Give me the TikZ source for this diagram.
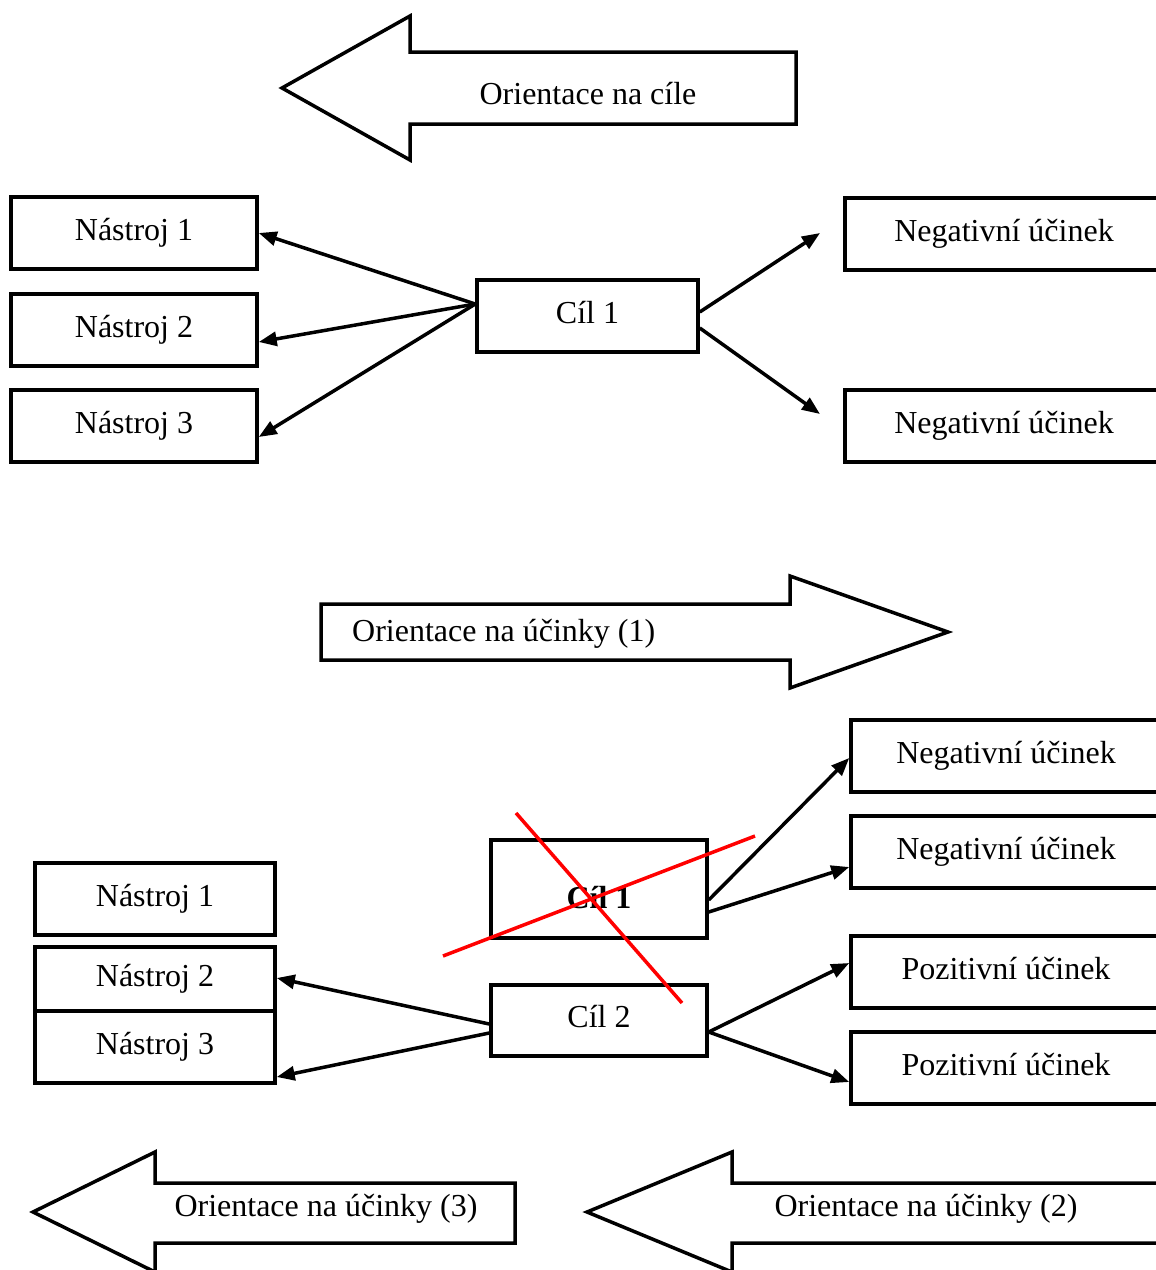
\documentclass[tikz,border=0pt]{standalone}
\usepackage{fontspec}
\setmainfont{Liberation Serif}
\usetikzlibrary{arrows.meta}

\tikzset{
  box/.style={draw, line width=3.5pt, inner sep=0pt, text height=22pt, text depth=8pt,
              minimum height=72pt, fill=white},
  conn/.style={line width=3.5pt, -{Triangle[length=18pt,width=14pt]}},
  blockarrow/.style={draw, line width=3.5pt, fill=white},
  lbl/.style={inner sep=0pt, anchor=base},
  strike/.style={draw=red, line width=3.5pt}
}

\begin{document}
\begin{tikzpicture}[x=1pt, y=-1pt, font=\fontsize{32}{38}\selectfont]
\useasboundingbox (0,0) rectangle (1156,1270);
\clip (0,0) rectangle (1156,1270);

% ---------- upper part: orientation on goals ----------
\draw[blockarrow] (796,52) -- (410,52) -- (410,16) -- (282,88) -- (410,160) -- (410,124) -- (796,124) -- cycle;
\node[lbl] (tgoal) at (588,104) {Orientace na cíle};

\node[box, minimum width=246pt] (n1) at (134,233) {Nástroj 1};
\node[box, minimum width=246pt] (n2) at (134,330) {Nástroj 2};
\node[box, minimum width=246pt] (n3) at (134,426) {Nástroj 3};
\node[box, minimum width=221pt] (c1) at (587.5,316) {Cíl 1};
\node[box, minimum width=318pt] (e1) at (1004,234) {Negativní účinek};
\node[box, minimum width=318pt] (e2) at (1004,426) {Negativní účinek};

\coordinate (t1) at (820,233);
\coordinate (t2) at (820,414);

\draw[conn] ([yshift=12pt]c1.west) -- (n1.east);
\draw[conn] ([yshift=12pt]c1.west) -- ([yshift=-12pt]n2.east);
\draw[conn] ([yshift=12pt]c1.west) -- ([yshift=-11pt]n3.east);
\draw[conn] ([yshift=4pt]c1.east) -- (t1);
\draw[conn] ([yshift=-12pt]c1.east) -- (t2);

% ---------- middle: orientation on effects (1) ----------
\draw[blockarrow] (321,604) -- (790,604) -- (790,576) -- (948,632) -- (790,688) -- (790,660) -- (321,660) -- cycle;
\node[lbl, anchor=base west] (teff1) at (352,641) {Orientace na účinky (1)};

% ---------- lower part ----------
\node[box, minimum width=240pt] (m1) at (155,899) {Nástroj 1};
\node[box, minimum width=240pt, minimum height=64pt] (m2) at (155,979) {Nástroj 2};
\node[box, minimum width=240pt] (m3) at (155,1047) {Nástroj 3};

\node[box, minimum width=216pt, minimum height=98pt, text height=40pt, text depth=2pt,
      font=\fontsize{32}{38}\selectfont\bfseries] (x1) at (599,889) {Cíl 1};
\node[box, minimum width=216pt, minimum height=71pt] (c2) at (599,1020.5) {Cíl 2};

\node[box, minimum width=310pt] (f1) at (1006,756) {Negativní účinek};
\node[box, minimum width=310pt] (f2) at (1006,852) {Negativní účinek};
\node[box, minimum width=310pt] (p1) at (1006,972) {Pozitivní účinek};
\node[box, minimum width=310pt] (p2) at (1006,1068) {Pozitivní účinek};

\draw[conn] ([yshift=-11pt]x1.east) -- ([yshift=-2pt]f1.west);
\draw[conn] ([yshift=-23pt]x1.east) -- ([yshift=-15pt]f2.west);
\draw[conn] ([yshift=-3.5pt]c2.west) -- ([yshift=1pt]m2.east);
\draw[conn] ([yshift=-12.5pt]c2.west) -- ([yshift=-30pt]m3.east);
\draw[conn] ([yshift=-11.5pt]c2.east) -- ([yshift=9pt]p1.west);
\draw[conn] ([yshift=-11.5pt]c2.east) -- ([yshift=-14pt]p2.west);

% crossing out the first goal
\coordinate (sa1) at (516,813);
\coordinate (sa2) at (682,1003);
\coordinate (sb1) at (443,956);
\coordinate (sb2) at (755,836);
\draw[strike] (sa1) -- (sa2);
\draw[strike] (sb1) -- (sb2);

% ---------- bottom: orientation on effects (3) and (2) ----------
\draw[blockarrow] (515,1183) -- (155,1183) -- (155,1152) -- (33,1212) -- (155,1272) -- (155,1243) -- (515,1243) -- cycle;
\node[lbl] (teff3) at (326,1216) {Orientace na účinky (3)};

\draw[blockarrow] (1170,1183) -- (732,1183) -- (732,1152) -- (587,1212) -- (732,1272) -- (732,1243) -- (1170,1243) -- cycle;
\node[lbl] (teff2) at (926,1216) {Orientace na účinky (2)};
\end{tikzpicture}
\end{document}
